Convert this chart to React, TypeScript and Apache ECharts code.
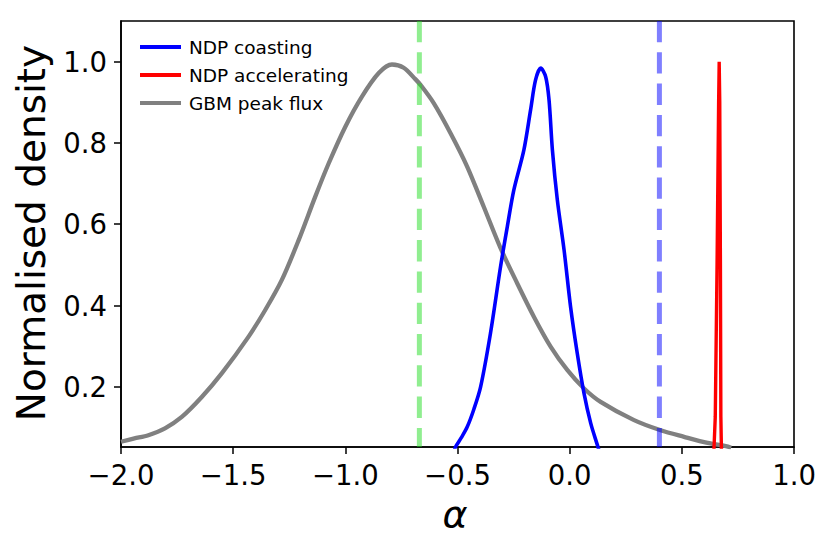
import React, { useEffect, useRef } from "react";
import * as echarts from "echarts";

const X_MIN = -2.0;
const X_MAX = 1.0;
const Y_MIN = 0.052;
const Y_MAX = 1.1;
const Y_TICKS = [0.2, 0.4, 0.6, 0.8, 1.0];

const GBM_X = [-2.0, -1.94, -1.878, -1.804, -1.729, -1.64, -1.551, -1.432, -1.357, -1.283, -1.208, -1.134, -1.074, -1.0, -0.926, -0.851, -0.792, -0.74, -0.688, -0.665, -0.606, -0.531, -0.457, -0.383, -0.308, -0.234, -0.159, -0.085, -0.01, 0.064, 0.138, 0.287, 0.406, 0.51, 0.615, 0.696, 0.72];
const GBM_Y = [0.065, 0.073, 0.081, 0.098, 0.126, 0.175, 0.233, 0.323, 0.389, 0.463, 0.561, 0.668, 0.75, 0.84, 0.914, 0.972, 0.993, 0.985, 0.957, 0.943, 0.898, 0.824, 0.742, 0.643, 0.541, 0.455, 0.372, 0.299, 0.241, 0.196, 0.163, 0.118, 0.093, 0.077, 0.062, 0.054, 0.05];

const COAST_X = [-0.515, -0.509, -0.483, -0.457, -0.427, -0.397, -0.353, -0.308, -0.278, -0.249, -0.204, -0.174, -0.152, -0.129, -0.107, -0.092, -0.077, -0.055, -0.025, 0.004, 0.034, 0.064, 0.094, 0.124, 0.13];
const COAST_Y = [0.04, 0.052, 0.075, 0.101, 0.145, 0.2, 0.332, 0.496, 0.594, 0.684, 0.783, 0.882, 0.955, 0.984, 0.963, 0.906, 0.783, 0.66, 0.537, 0.397, 0.282, 0.184, 0.11, 0.056, 0.045];

const ACC_X = [0.642, 0.649, 0.657, 0.664, 0.6665, 0.669, 0.672, 0.674, 0.677];
const ACC_Y = [0.03, 0.126, 0.5, 0.9, 1.0, 0.9, 0.5, 0.126, 0.03];

const VLINE_GREEN = -0.67;
const VLINE_BLUE = 0.4;

const LEGEND_NAMES = ["NDP coasting", "NDP accelerating", "GBM peak flux"];
const LEGEND_COLORS = ["#0000ff", "#ff0000", "#808080"];

const FONT = "DejaVu Sans";

const pairs = (xs: number[], ys: number[]) => xs.map((x, i) => [x, ys[i]]);

export default function App() {
  const ref = useRef<HTMLDivElement>(null);
  useEffect(() => {
    if (!ref.current) return;
    const chart = echarts.init(ref.current, null, { renderer: "svg" });
    const fmt = (v: number) => v.toFixed(1).replace("-", "\u2212");
    chart.setOption({
      animation: false,
      backgroundColor: "#ffffff",
      grid: {
        left: 121,
        right: 37,
        top: 21,
        bottom: 102,
        show: true,
        borderColor: "#000",
        borderWidth: 1.6,
        backgroundColor: "transparent",
      },
      legend: {
        data: LEGEND_NAMES.map((n, i) => ({
          name: n,
          icon: "rect",
          itemStyle: { color: LEGEND_COLORS[i], borderWidth: 0 },
        })),
        orient: "vertical",
        left: 135,
        top: 28,
        itemWidth: 41,
        itemHeight: 4,
        itemGap: 0,
        textStyle: { fontFamily: FONT, fontSize: 18.5, lineHeight: 28, color: "#000", padding: [0, 0, 0, 3] },
      },
      xAxis: {
        type: "value",
        min: X_MIN,
        max: X_MAX,
        interval: 0.5,
        axisLine: { show: true, onZero: false, lineStyle: { color: "#000", width: 1.6 } },
        axisTick: { show: true, inside: false, length: 7, lineStyle: { color: "#000", width: 1.5 } },
        axisLabel: { fontFamily: FONT, fontSize: 27.5, color: "#000", margin: 14, formatter: fmt },
        splitLine: { show: false },
      },
      yAxis: {
        type: "value",
        min: Y_MIN,
        max: Y_MAX,
        axisLine: { show: true, onZero: false, lineStyle: { color: "#000", width: 1.6 } },
        axisTick: { show: true, inside: false, length: 7, customValues: Y_TICKS, lineStyle: { color: "#000", width: 1.5 } },
        axisLabel: { fontFamily: FONT, fontSize: 27.5, color: "#000", margin: 14, customValues: Y_TICKS, formatter: fmt },
        splitLine: { show: false },
      },
      graphic: [
        {
          type: "text",
          x: 31,
          y: 233,
          rotation: Math.PI / 2,
          style: {
            text: "Normalised density",
            fontFamily: FONT,
            fontSize: 39,
            fill: "#000",
            textAlign: "center",
            textVerticalAlign: "middle",
          },
        },
        {
          type: "text",
          x: 455,
          y: 514,
          style: {
            text: "\u03b1",
            fontFamily: FONT,
            fontSize: 38,
            fontStyle: "italic",
            fill: "#000",
            textAlign: "center",
            textVerticalAlign: "middle",
          },
        },
      ],
      series: [
        {
          name: "GBM peak flux",
          type: "line",
          data: pairs(GBM_X, GBM_Y),
          smooth: 0.3,
          symbol: "none",
          clip: true,
          z: 2,
          lineStyle: { color: "#808080", width: 4.3 },
          itemStyle: { color: "#808080" },
        },
        {
          name: "NDP coasting",
          type: "line",
          data: pairs(COAST_X, COAST_Y),
          smooth: 0.3,
          symbol: "none",
          clip: true,
          z: 3,
          lineStyle: { color: "#0000ff", width: 3.6 },
          itemStyle: { color: "#0000ff" },
        },
        {
          name: "NDP accelerating",
          type: "line",
          data: pairs(ACC_X, ACC_Y),
          symbol: "none",
          clip: true,
          z: 4,
          lineStyle: { color: "#ff0000", width: 3.4 },
          itemStyle: { color: "#ff0000" },
        },
        {
          name: "_green",
          type: "line",
          data: [[VLINE_GREEN, Y_MAX], [VLINE_GREEN, Y_MIN]],
          symbol: "none",
          z: 5,
          lineStyle: { color: "rgba(34,221,34,0.5)", width: 5, type: [21.3, 10] },
        },
        {
          name: "_blue",
          type: "line",
          data: [[VLINE_BLUE, Y_MAX], [VLINE_BLUE, Y_MIN]],
          symbol: "none",
          z: 5,
          lineStyle: { color: "rgba(0,0,255,0.5)", width: 5, type: [21.3, 10] },
        },
      ],
    });
    return () => chart.dispose();
  }, []);
  return (
    <div
      ref={ref}
      style={{ position: "fixed", left: 0, top: 0, width: 831, height: 549, background: "#fff" }}
    />
  );
}
